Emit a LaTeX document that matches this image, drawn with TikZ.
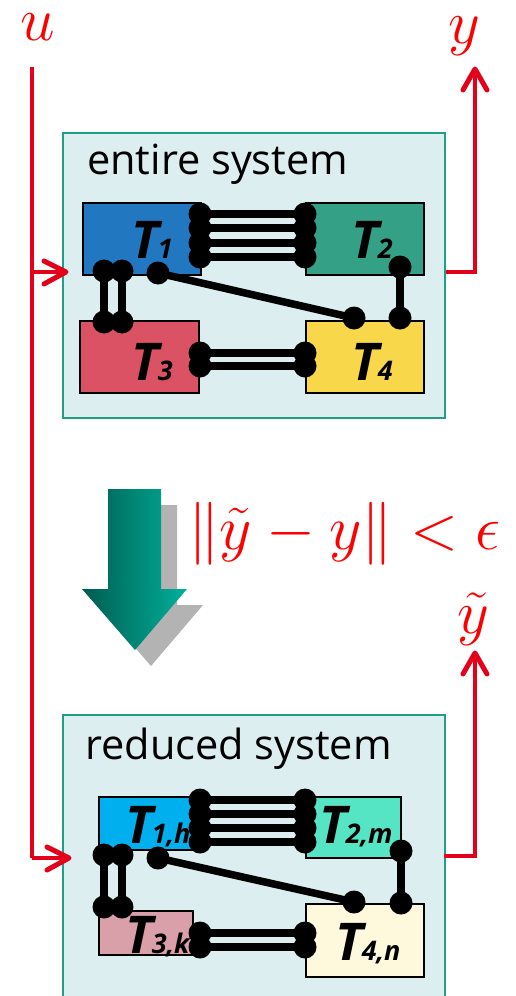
\documentclass[tikz,border=0pt]{standalone}
\usepackage{fix-cm}
\usepackage{fontspec}
\setsansfont{Open Sans}
\usetikzlibrary{calc}

\definecolor{sigred}{RGB}{226,0,26}
\definecolor{sysfill}{RGB}{221,238,240}
\definecolor{sysedge}{RGB}{31,160,133}
\definecolor{toneA}{RGB}{33,120,192}
\definecolor{toneB}{RGB}{52,160,133}
\definecolor{toneC}{RGB}{218,82,100}
\definecolor{toneD}{RGB}{248,216,74}
\definecolor{toneAr}{RGB}{0,176,238}
\definecolor{toneBr}{RGB}{85,228,196}
\definecolor{toneCr}{RGB}{218,160,170}
\definecolor{toneDr}{RGB}{254,249,220}
\definecolor{arrowdark}{RGB}{0,92,80}
\definecolor{arrowlight}{RGB}{0,176,155}
\definecolor{shadowgray}{RGB}{179,179,179}

% tank label: bold italic T with a subscript
\newcommand{\tankname}[1]{{\sffamily\bfseries\itshape\fontsize{52}{52}\selectfont T\kern-1pt{\fontsize{27}{27}\selectfont #1}}}

\tikzset{
  sig/.style={draw=sigred, line width=4.5pt},
  barb/.style={draw=sigred, line width=5pt, line cap=round, line join=round},
  sysbox/.style={draw=sysedge, fill=sysfill, line width=2pt, anchor=north west, inner sep=0pt},
  tank/.style={draw=black, line width=1.5pt, anchor=north west, inner sep=0pt},
  pin/.style={circle, fill=black, minimum size=23pt, inner sep=0pt},
  link/.style={draw=black, line width=7.5pt},
  tlabel/.style={anchor=base west, inner sep=0pt},
  heading/.style={anchor=base west, inner sep=0pt, font=\sffamily\fontsize{41.5}{42}\selectfont},
  mathlabel/.style={text=red, inner sep=0pt, anchor=base, font=\fontsize{62}{70}\selectfont}
}

\begin{document}
\begin{tikzpicture}[x=1pt,y=-1pt]
\clip (0,0) rectangle (515,996);
\fill[white] (0,0) rectangle (515,996);

% ---------- entire system ----------
\node[sysbox, minimum width=382pt, minimum height=285pt] (full) at (62,132) {};
\node[heading] (fullname) at (87,174) {entire system};

\node[tank, fill=toneA, minimum width=118pt, minimum height=72pt] (T1) at (82,202) {};
\node[tank, fill=toneB, minimum width=118pt, minimum height=72pt] (T2) at (305,202) {};
\node[tank, fill=toneC, minimum width=119pt, minimum height=72pt] (T3) at (79,320) {};
\node[tank, fill=toneD, minimum width=118pt, minimum height=72pt] (T4) at (305,320) {};

\node[tlabel] (L1) at (131,258) {\tankname{1}};
\node[tlabel] (L2) at (351,258) {\tankname{2}};
\node[tlabel] (L3) at (131,380) {\tankname{3}};
\node[tlabel] (L4) at (351,380) {\tankname{4}};

% pipes of the entire system
\foreach \i/\yy in {1/214,2/228,3/243,4/257}{
  \node[pin] (fa\i) at (200,\yy) {};
  \node[pin] (fb\i) at (305,\yy) {};
  \draw[link] (fa\i.center) -- (fb\i.center);
}
\foreach \i/\xx in {1/104,2/122}{
  \node[pin] (fc\i) at (\xx,271) {};
  \node[pin] (fd\i) at (\xx,322) {};
  \draw[link] (fc\i.center) -- (fd\i.center);
}
\node[pin] (fe1) at (158,273) {};
\node[pin] (fe2) at (354,318) {};
\draw[link] (fe1.center) -- (fe2.center);
\node[pin] (ff1) at (400,267) {};
\node[pin] (ff2) at (400,318) {};
\draw[link] (ff1.center) -- (ff2.center);
\foreach \i/\yy in {1/353,2/366}{
  \node[pin] (fg\i) at (200,\yy) {};
  \node[pin] (fh\i) at (305,\yy) {};
  \draw[link] (fg\i.center) -- (fh\i.center);
}

% ---------- reduction arrow with its shadow ----------
\fill[shadowgray] (124,505) -- (177,505) -- (177,605) -- (203,605) -- (151,666) -- (98,605) -- (124,605) -- cycle;
\shade[left color=arrowdark, right color=arrowlight] (108,489) -- (161,489) -- (161,589) -- (187,589) -- (135,650) -- (82,589) -- (108,589) -- cycle;
\node[anchor=base west, inner sep=0pt, text=red, font=\fontsize{63}{70}\selectfont] (err) at (188,549) {$\|\tilde y - y\| < \epsilon$};

% ---------- reduced system ----------
\node[sysbox, minimum width=382pt, minimum height=300pt] (red) at (62,714) {};
\node[heading] (redname) at (85,759) {reduced system};

\node[tank, fill=toneAr, minimum width=102pt, minimum height=53pt] (R1) at (98,796) {};
\node[tank, fill=toneBr, minimum width=95pt, minimum height=61pt] (R2) at (305,796) {};
\node[tank, fill=toneCr, minimum width=94pt, minimum height=44pt] (R3) at (98,910) {};
\node[tank, fill=toneDr, minimum width=118pt, minimum height=73pt] (R4) at (305,903) {};

\node[tlabel] (M1) at (125,843) {\tankname{1,h}};
\node[tlabel] (M2) at (319,843) {\tankname{2,m}};
\node[tlabel] (M3) at (125,953) {\tankname{3,k}};
\node[tlabel] (M4) at (335,960) {\tankname{4,n}};

% pipes of the reduced system
\foreach \i/\yy in {1/800,2/814,3/828,4/842}{
  \node[pin] (ra\i) at (200,\yy) {};
  \node[pin] (rb\i) at (305,\yy) {};
  \draw[link] (ra\i.center) -- (rb\i.center);
}
\foreach \i/\xx in {1/104,2/122}{
  \node[pin] (rc\i) at (\xx,855) {};
  \node[pin] (rd\i) at (\xx,907) {};
  \draw[link] (rc\i.center) -- (rd\i.center);
}
\node[pin] (re1) at (158,858) {};
\node[pin] (re2) at (354,902) {};
\draw[link] (re1.center) -- (re2.center);
\node[pin] (rf1) at (401,851) {};
\node[pin] (rf2) at (401,903) {};
\draw[link] (rf1.center) -- (rf2.center);
\foreach \i/\yy in {1/933,2/947}{
  \node[pin] (rg\i) at (200,\yy) {};
  \node[pin] (rh\i) at (305,\yy) {};
  \draw[link] (rg\i.center) -- (rh\i.center);
}

% ---------- input and output signals ----------
\node[mathlabel] (u) at (38,40) {$u$};
\node[mathlabel] (y) at (464,43) {$y$};
\node[mathlabel] (yt) at (473,633) {$\tilde y$};

\coordinate (uin) at (32,67);
\coordinate (inA) at (66,272);
\coordinate (inB) at (69,858);
\coordinate (outA) at (475,69);
\coordinate (outB) at (475,653);

\draw[sig] (uin) -- (32,858);
\draw[sig] (32,272) -- (inA);
\draw[sig] (32,858) -- (inB);
\draw[sig] (full.east |- inA) -| (outA);
\draw[sig] (444,856) -| (outB);

% open arrowheads at the signal ends
\draw[barb] ($(inA)+(-22,-11)$) -- (inA) -- ($(inA)+(-22,12)$);
\draw[barb] ($(inB)+(-22,-11)$) -- (inB) -- ($(inB)+(-22,12)$);
\draw[barb] ($(outA)+(-12,21)$) -- (outA) -- ($(outA)+(12,21)$);
\draw[barb] ($(outB)+(-12,21)$) -- (outB) -- ($(outB)+(12,21)$);
\end{tikzpicture}
\end{document}
